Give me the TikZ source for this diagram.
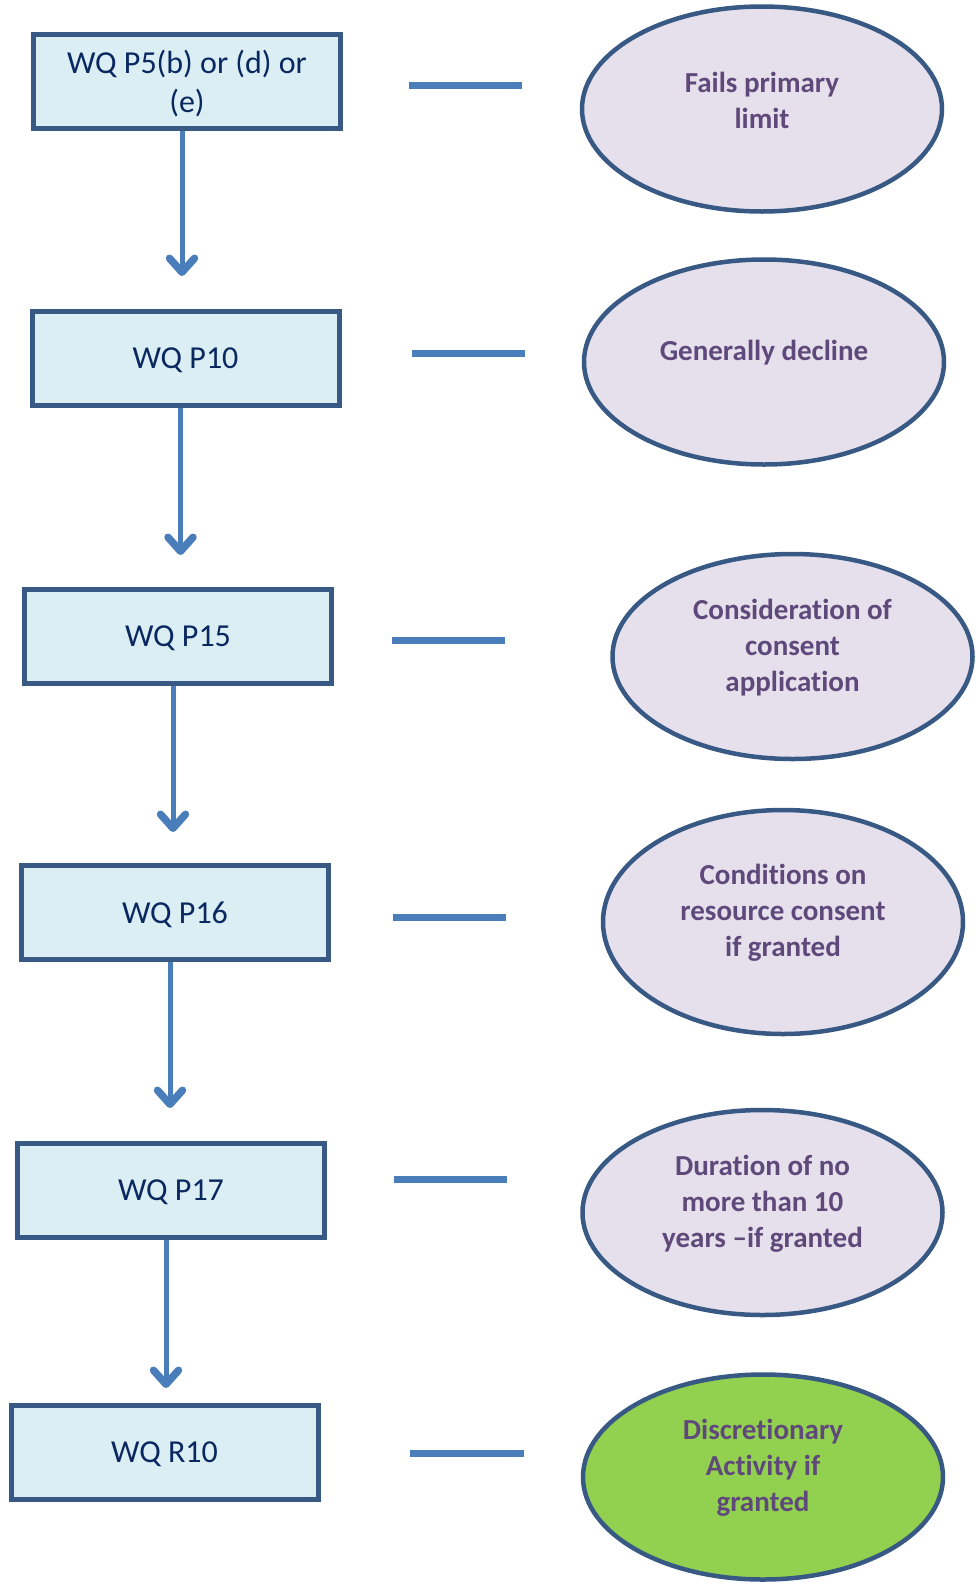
\documentclass[tikz,border=0pt]{standalone}
\usepackage{fontspec}
\setmainfont[Ligatures=NoCommon]{Carlito}
\usetikzlibrary{shapes.geometric, arrows.meta}

\definecolor{boxline}{HTML}{395985}
\definecolor{boxfill}{HTML}{DBEEF4}
\definecolor{boxtext}{HTML}{0A2860}
\definecolor{flowblue}{HTML}{4A7EBB}
\definecolor{ovalfill}{HTML}{E5E0EC}
\definecolor{purpletext}{HTML}{5F497A}
\definecolor{grantgreen}{HTML}{92D050}

\begin{document}
\begin{tikzpicture}[
    x=1pt, y=-1pt,
    box/.style={
        draw=boxline,
        line width=5pt,
        fill=boxfill,
        text=boxtext,
        align=center,
        inner sep=0pt,
        text depth=0pt,
        minimum width=307pt,
        minimum height=94pt,
        font=\fontsize{32}{39}\selectfont
    },
    oval/.style={
        ellipse,
        draw=boxline,
        line width=4.5pt,
        fill=ovalfill,
        inner sep=0pt,
        minimum width=360pt,
        minimum height=205pt
    },
    ovaltext/.style={
        text=purpletext,
        align=center,
        yshift=9pt,
        font=\bfseries\fontsize{29}{36}\selectfont
    },
    arrow/.style={
        -{Straight Barb[length=14pt, width=25pt, line width=7.5pt, round]},
        line width=5pt,
        draw=flowblue
    },
    bar/.style={
        draw=flowblue,
        line width=7pt
    }
]

\useasboundingbox (0,0) rectangle (976,1588);

% policy boxes
\node[box] (p5) at (187,81) {WQ P5(b) or (d) or\\(e)};
\node[box] (p10) at (185.5,358.5) {WQ P10};
\node[box] (p15) at (178,636.5) {WQ P15};
\node[box] (p16) at (175,912.5) {WQ P16};
\node[box] (p17) at (171,1190.5) {WQ P17};
\node[box] (r10) at (164.5,1452.5) {WQ R10};

% outcomes
\node[oval] (fails) at (762,109)
    [label={[ovaltext]center:Fails primary\\limit}] {};
\node[oval] (decline) at (764,362)
    [label={[ovaltext]center:Generally decline}] {};
\node[oval] (consider) at (792.5,656.5)
    [label={[ovaltext]center:Consideration of\\consent\\application}] {};
\node[oval, minimum height=224pt] (conditions) at (783,922)
    [label={[ovaltext]center:Conditions on\\resource consent\\if granted}] {};
\node[oval] (duration) at (762.5,1212.5)
    [label={[ovaltext]center:Duration of no\\more than 10\\years --if granted}] {};
\node[oval, fill=grantgreen] (discretionary) at (763,1477)
    [label={[ovaltext]center:Discretionary\\Activity if\\granted}] {};

% dashes between box and outcome
\coordinate (d1a) at (409,85);   \coordinate (d1b) at (522,85);
\coordinate (d2a) at (412,353);  \coordinate (d2b) at (525,353);
\coordinate (d3a) at (392,640);  \coordinate (d3b) at (505,640);
\coordinate (d4a) at (393,917);  \coordinate (d4b) at (506,917);
\coordinate (d5a) at (394,1179); \coordinate (d5b) at (507,1179);
\coordinate (d6a) at (410,1453); \coordinate (d6b) at (524,1453);

\draw[bar] (d1a) -- (d1b);
\draw[bar] (d2a) -- (d2b);
\draw[bar] (d3a) -- (d3b);
\draw[bar] (d4a) -- (d4b);
\draw[bar] (d5a) -- (d5b);
\draw[bar] (d6a) -- (d6b);

\draw[arrow, shorten >=33pt] ([xshift=-5pt]p5.south) -- ([xshift=-5pt]p5.south |- p10.north);
\draw[arrow, shorten >=32pt] ([xshift=-5pt]p10.south) -- ([xshift=-5pt]p10.south |- p15.north);
\draw[arrow, shorten >=31pt] ([xshift=-5pt]p15.south) -- ([xshift=-5pt]p15.south |- p16.north);
\draw[arrow, shorten >=33pt] ([xshift=-5pt]p16.south) -- ([xshift=-5pt]p16.south |- p17.north);
\draw[arrow, shorten >=15pt] ([xshift=-5pt]p17.south) -- ([xshift=-5pt]p17.south |- r10.north);

\end{tikzpicture}
\end{document}
